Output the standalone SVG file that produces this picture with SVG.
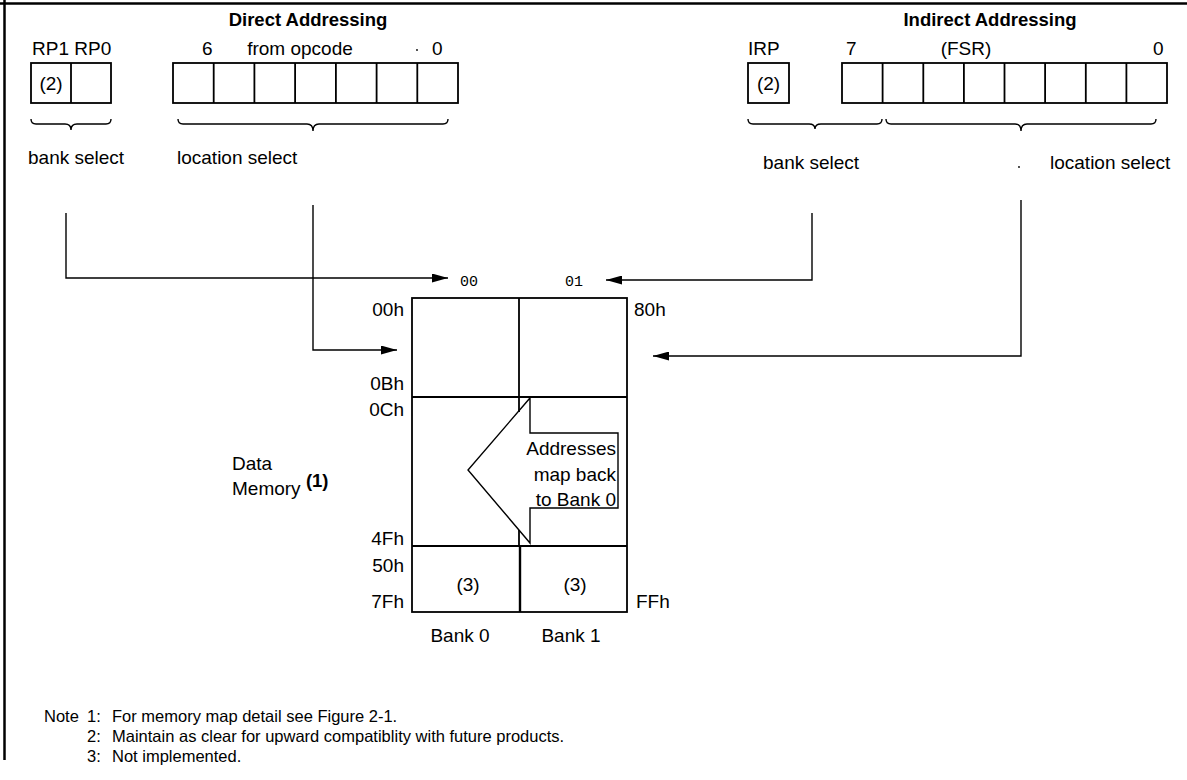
<svg xmlns="http://www.w3.org/2000/svg" width="1187" height="780" viewBox="0 0 1187 780">
<defs>
<style>
text{font-family:"Liberation Sans",Arial,sans-serif;font-size:19px;fill:#000}
.b{font-weight:bold;font-size:18.5px}
.m{font-family:"Liberation Mono","Courier New",monospace;font-size:15px}
.n{font-size:16.5px}
.box{fill:none;stroke:#000;stroke-width:1.8}
.ln{fill:none;stroke:#000;stroke-width:1.4}
.br{fill:none;stroke:#000;stroke-width:1.4}
.c{text-anchor:middle}
.r{text-anchor:end}
</style>
<marker id="ah" viewBox="0 0 16 9" refX="16" refY="4.5" markerWidth="16" markerHeight="9" markerUnits="userSpaceOnUse" orient="auto">
<path d="M0,0 L16,4.5 L0,9 Z" fill="#000"/>
</marker>
</defs>
<rect width="1187" height="780" fill="#fff"/>
<g id="frame">
<line x1="4.5" y1="0" x2="4.5" y2="760" stroke="#000" stroke-width="2.5"/>
<line x1="0" y1="3.5" x2="1187" y2="3.5" stroke="#000" stroke-width="2.5"/>
</g>
<g id="direct">
<text class="b c" x="308" y="26">Direct Addressing</text>
<text x="32" y="55">RP1 RP0</text>
<text x="202" y="55">6</text>
<text class="c" x="300" y="55">from opcode</text>
<text x="432" y="55">0</text>
<circle cx="417" cy="50" r="0.9" fill="#000"/>
<g id="direct-bank-reg">
<rect class="box" x="31" y="63" width="80" height="40"/>
<line class="box" x1="71" y1="63" x2="71" y2="103"/>
<text class="c" x="51" y="90">(2)</text>
</g>
<g id="direct-loc-reg">
<rect class="box" x="173" y="63" width="285" height="40"/>
<path class="box" d="M213.7,63V103M254.4,63V103M295.1,63V103M335.9,63V103M376.6,63V103M417.3,63V103"/>
</g>
<path class="br" d="M31,119 q0,5 5,5 L65,124 q6,0 6,6 q0,-6 6,-6 L106,124 q5,0 5,-5"/>
<path class="br" d="M178,119 q0,5 5,5 L307,124 q6,0 6,7 q0,-7 6,-7 L443,124 q5,0 5,-5"/>
<text x="28" y="164">bank select</text>
<text x="177" y="164">location select</text>
</g>
<g id="indirect">
<text class="b c" x="990" y="26">Indirect Addressing</text>
<text x="748" y="55">IRP</text>
<text x="846" y="55">7</text>
<text class="c" x="966" y="55">(FSR)</text>
<text x="1153" y="55">0</text>
<g id="irp-reg">
<rect class="box" x="748" y="63" width="41" height="40"/>
<text class="c" x="768.5" y="90">(2)</text>
</g>
<g id="fsr-reg">
<rect class="box" x="842" y="63" width="325" height="40"/>
<path class="box" d="M882.6,63V103M923.3,63V103M963.9,63V103M1004.5,63V103M1045.1,63V103M1085.8,63V103M1126.4,63V103"/>
</g>
<path class="br" d="M748,119 q0,5 5,5 L809,124 q6,0 6,5 q0,-5 6,-5 L877,124 q5,0 5,-5"/>
<path class="br" d="M886,119 q0,5 5,5 L1015,124 q6,0 6,7 q0,-7 6,-7 L1151,124 q5,0 5,-5"/>
<text x="763" y="169">bank select</text>
<circle cx="1019" cy="167" r="0.9" fill="#000"/>
<text x="1050" y="169">location select</text>
</g>
<g id="connectors">
<path class="ln" d="M66,213 V278 H448" marker-end="url(#ah)"/>
<path class="ln" d="M313,205 V350 H397" marker-end="url(#ah)"/>
<path class="ln" d="M812,213 V280 H606" marker-end="url(#ah)"/>
<path class="ln" d="M1021,200 V356 H653" marker-end="url(#ah)"/>
</g>
<text class="m" x="460" y="286">00</text>
<text class="m" x="565" y="286">01</text>
<g id="memory">
<rect class="box" x="412" y="298" width="215" height="314"/>
<line class="box" x1="412" y1="397" x2="627" y2="397"/>
<line class="box" x1="412" y1="546" x2="627" y2="546"/>
<line class="box" x1="519" y1="298" x2="519" y2="397"/>
<line class="box" x1="519" y1="397" x2="519" y2="412"/>
<line class="box" x1="519" y1="530" x2="519" y2="546"/>
<line x1="520" y1="546" x2="520" y2="612" stroke="#000" stroke-width="2.4"/>
<text class="r" x="404" y="316">00h</text>
<text class="r" x="404" y="390">0Bh</text>
<text class="r" x="404" y="416">0Ch</text>
<text class="r" x="404" y="545">4Fh</text>
<text class="r" x="404" y="572">50h</text>
<text class="r" x="404" y="608">7Fh</text>
<text x="634" y="316">80h</text>
<text x="636" y="608">FFh</text>
<text class="c" x="468" y="591">(3)</text>
<text class="c" x="575" y="591">(3)</text>
<text class="c" x="460" y="642">Bank 0</text>
<text class="c" x="571" y="642">Bank 1</text>
</g>
<g id="map-back">
<path class="ln" d="M530,398 V433 H618 V508 H530 V543 L468,470 Z" fill="#fff"/>
<text class="r" x="616" y="455">Addresses</text>
<text class="r" x="616" y="481">map back</text>
<text class="r" x="616" y="506">to Bank 0</text>
</g>
<g id="data-label">
<text x="232" y="470">Data</text>
<text x="232" y="495">Memory <tspan class="b" font-size="11" dy="-8">(1)</tspan></text>
</g>
<g id="notes">
<text class="n" x="44" y="722">Note</text>
<text class="n" x="87" y="722">1:</text>
<text class="n" x="112" y="722">For memory map detail see  Figure 2-1.</text>
<text class="n" x="87" y="742">2:</text>
<text class="n" x="112" y="742">Maintain as clear for upward compatiblity with future products.</text>
<text class="n" x="87" y="762">3:</text>
<text class="n" x="112" y="762">Not implemented.</text>
</g>
</svg>
